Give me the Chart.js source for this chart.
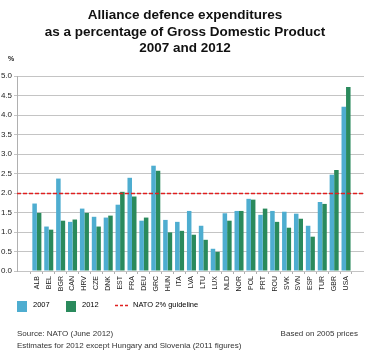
<!DOCTYPE html>
<html>
<head>
<meta charset="utf-8">
<script src="https://cdn.jsdelivr.net/npm/chart.js@4/dist/chart.umd.min.js"></script>
<style>
  html, body { margin:0; padding:0; background:#fff; }
  body { width:370px; height:356px; position:relative; overflow:hidden; font-family:"Liberation Sans", Arial, sans-serif; }
  #c { position:absolute; left:0; top:0; }
  .t { position:absolute; white-space:nowrap; }
  #title { left:0; width:370px; top:7px; text-align:center; font-weight:bold; font-size:13.5px; line-height:16.5px; color:#111; }
  #pct { left:8px; top:55px; font-size:7px; font-weight:bold; color:#222; }
  .sw { position:absolute; width:10px; height:11px; }
  .lg { font-size:7.5px; color:#000; line-height:10px; top:300px; }
  .ft { font-size:8px; color:#333; line-height:10px; }
</style>
</head>
<body>
<canvas id="c" width="370" height="356"></canvas>
<div id="title" class="t">Alliance defence expenditures<br>as a percentage of Gross Domestic Product<br>2007 and 2012</div>
<div id="pct" class="t">%</div>
<div class="sw" style="left:17px;top:301px;background:#4eadd0"></div>
<div class="t lg" style="left:33px">2007</div>
<div class="sw" style="left:66px;top:301px;background:#2a8a5c"></div>
<div class="t lg" style="left:82px">2012</div>
<svg style="position:absolute;left:115px;top:304px" width="14" height="3"><line x1="0" y1="1.5" x2="14" y2="1.5" stroke="#e02020" stroke-width="1.3" stroke-dasharray="3,2"/></svg>
<div class="t lg" style="left:133px">NATO 2% guideline</div>
<div class="t ft" style="left:17px;top:329px">Source: NATO (June 2012)</div>
<div class="t ft" style="right:12px;top:329px">Based on 2005 prices</div>
<div class="t ft" style="left:17px;top:341px">Estimates for 2012 except Hungary and Slovenia (2011 figures)</div>
<script>
const COUNTRIES = ['ALB','BEL','BGR','CAN','HRV','CZE','DNK','EST','FRA','DEU','GRC','HUN','ITA','LVA','LTU','LUX','NLD','NOR','POL','PRT','ROU','SVK','SVN','ESP','TUR','GBR','USA'];
const VALUES_2007 = [1.73,1.14,2.37,1.26,1.60,1.39,1.37,1.70,2.39,1.29,2.70,1.31,1.26,1.54,1.16,0.57,1.48,1.54,1.85,1.44,1.54,1.52,1.47,1.16,1.77,2.47,4.21];
const VALUES_2012 = [1.49,1.06,1.29,1.32,1.49,1.14,1.42,2.03,1.91,1.37,2.57,0.99,1.03,0.93,0.80,0.49,1.29,1.54,1.83,1.60,1.26,1.11,1.34,0.88,1.72,2.59,4.72];
const SERIES_NAMES = ['2007','2012'];
const GUIDELINE = 2.0;
const Y_MIN = 0, Y_MAX = 5, Y_STEP = 0.5;

const toPoints = arr => arr.map((v, i) => ({ x: i, y: v }));

const guidelinePlugin = {
  id: 'guideline',
  afterDatasetsDraw(chart) {
    const { ctx, chartArea, scales } = chart;
    const y = Math.round(scales.y.getPixelForValue(GUIDELINE)) + 0.5;
    ctx.save();
    ctx.strokeStyle = '#e02020';
    ctx.lineWidth = 1.4;
    ctx.setLineDash([4, 2]);
    ctx.beginPath();
    ctx.moveTo(chartArea.left, y);
    ctx.lineTo(chartArea.right, y);
    ctx.stroke();
    ctx.restore();
  }
};

new Chart(document.getElementById('c'), {
  type: 'bar',
  data: {
    datasets: [
      { label: SERIES_NAMES[0], data: toPoints(VALUES_2007), backgroundColor: '#4eadd0', categoryPercentage: 0.76, barPercentage: 1.0 },
      { label: SERIES_NAMES[1], data: toPoints(VALUES_2012), backgroundColor: '#2a8a5c', categoryPercentage: 0.76, barPercentage: 1.0 }
    ]
  },
  options: {
    responsive: false,
    devicePixelRatio: 1,
    animation: false,
    layout: { padding: { top: 76, left: 0, right: 6, bottom: 63 } },
    plugins: { legend: { display: false }, tooltip: { enabled: false }, title: { display: false } },
    scales: {
      x: {
        type: 'linear',
        min: -1.13,
        max: 26.97,
        afterBuildTicks: s => { s.ticks = COUNTRIES.map((_, i) => ({ value: i })); },
        afterFit: s => { s.height = 22; },
        ticks: {
          autoSkip: false, minRotation: 90, maxRotation: 90, padding: 2,
          font: { family: '"Liberation Sans", Arial, sans-serif', size: 7 }, color: '#222',
          callback: v => COUNTRIES[v] ?? ''
        },
        grid: { display: true, drawOnChartArea: false, offset: true, tickLength: 3, color: '#b0b0b0' },
        border: { display: false }
      },
      y: {
        min: Y_MIN, max: Y_MAX,
        afterFit: s => { s.width = 17; },
        ticks: {
          stepSize: Y_STEP, padding: 2,
          font: { family: '"Liberation Sans", Arial, sans-serif', size: 8 }, color: '#222',
          callback: v => Number(v).toFixed(1)
        },
        grid: { color: '#c4c4c4', tickLength: 3, lineWidth: 1 },
        border: { display: true, color: '#b0b0b0' }
      }
    }
  },
  plugins: [guidelinePlugin]
});
</script>
</body>
</html>
